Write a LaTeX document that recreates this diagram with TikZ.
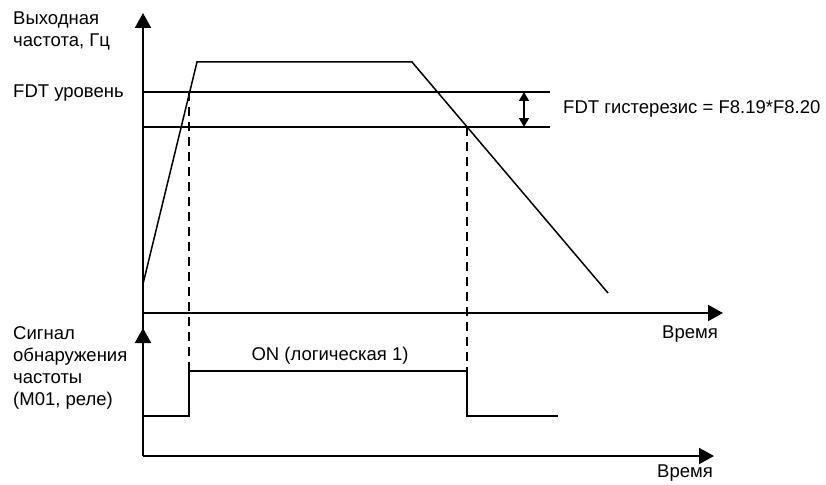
\documentclass[tikz,border=0pt]{standalone}
\usepackage{fontspec}
\setmainfont{Liberation Sans}
\usetikzlibrary{arrows.meta}
\begin{document}
\begin{tikzpicture}[x=1pt,y=-1pt,
  axis/.style={line width=2pt,-{Triangle[width=16pt,length=15pt]}},
  curve/.style={line width=1.5pt},
  level/.style={line width=1.5pt},
  sig/.style={line width=1.7pt},
  dashline/.style={line width=1.6pt,dash pattern=on 9pt off 6pt},
  lbl/.style={font=\fontsize{18.5}{22}\selectfont,inner sep=0pt},
  lblL/.style={lbl,anchor=west,align=left}]
\useasboundingbox (0,0) rectangle (826,484);
% axes
\coordinate (o1) at (143,313);
\coordinate (t1) at (143,13);
\coordinate (r1) at (723,313);
\coordinate (o2) at (143,456);
\coordinate (t2) at (143,328);
\coordinate (r2) at (714,456);
\draw[line width=2pt] (o1) -- (o2);
\draw[axis] (o1) -- (t1);
\draw[axis] (o1) -- (r1);
\draw[axis] (o2) -- (t2);
\draw[axis] (o2) -- (r2);
% levels
\coordinate (L1a) at (143,92);
\coordinate (L1b) at (550,92);
\coordinate (L2a) at (143,127);
\coordinate (L2b) at (550,127);
\draw[level] (L1a) -- (L1b);
\draw[level] (L2a) -- (L2b);
% frequency curve
\coordinate (f0) at (143,284);
\coordinate (f1) at (197,62);
\coordinate (f2) at (412,62);
\coordinate (f3) at (608,293);
\draw[curve,line join=miter] (f0) -- (f1) -- (f2) -- (f3);
% hysteresis arrow
\coordinate (h1) at (524,92);
\coordinate (h2) at (524,127);
\draw[line width=1.5pt,{Triangle[width=10pt,length=9pt]}-{Triangle[width=10pt,length=9pt]}] (h1) -- (h2);
% signal
\coordinate (s0) at (143,416);
\coordinate (s1) at (189,416);
\coordinate (s2) at (189,371);
\coordinate (s3) at (467,371);
\coordinate (s4) at (467,416);
\coordinate (s5) at (558,416);
\draw[sig] (s0) -- (s1) -- (s2) -- (s3) -- (s4) -- (s5);
% dashed
\coordinate (d1) at (189,92);
\coordinate (d2) at (467,127);
\draw[dashline] (d1) -- (s2);
\draw[dashline] (d2) -- (s3);
% labels
\node[lblL] (yl) at (13,31) {Выходная\\частота, Гц};
\node[lblL] (fdt) at (13,93) {FDT уровень};
\node[lblL] (hy) at (563,109) {FDT гистерезис = F8.19*F8.20};
\node[lbl] (t1l) at (690,334) {Время};
\node[lbl] (t2l) at (685,473) {Время};
\node[lbl] (on) at (330,356) {ON (логическая 1)};
\node[lblL] (sl) at (13,368) {Сигнал\\обнаружения\\частоты\\(М01, реле)};
\end{tikzpicture}
\end{document}
